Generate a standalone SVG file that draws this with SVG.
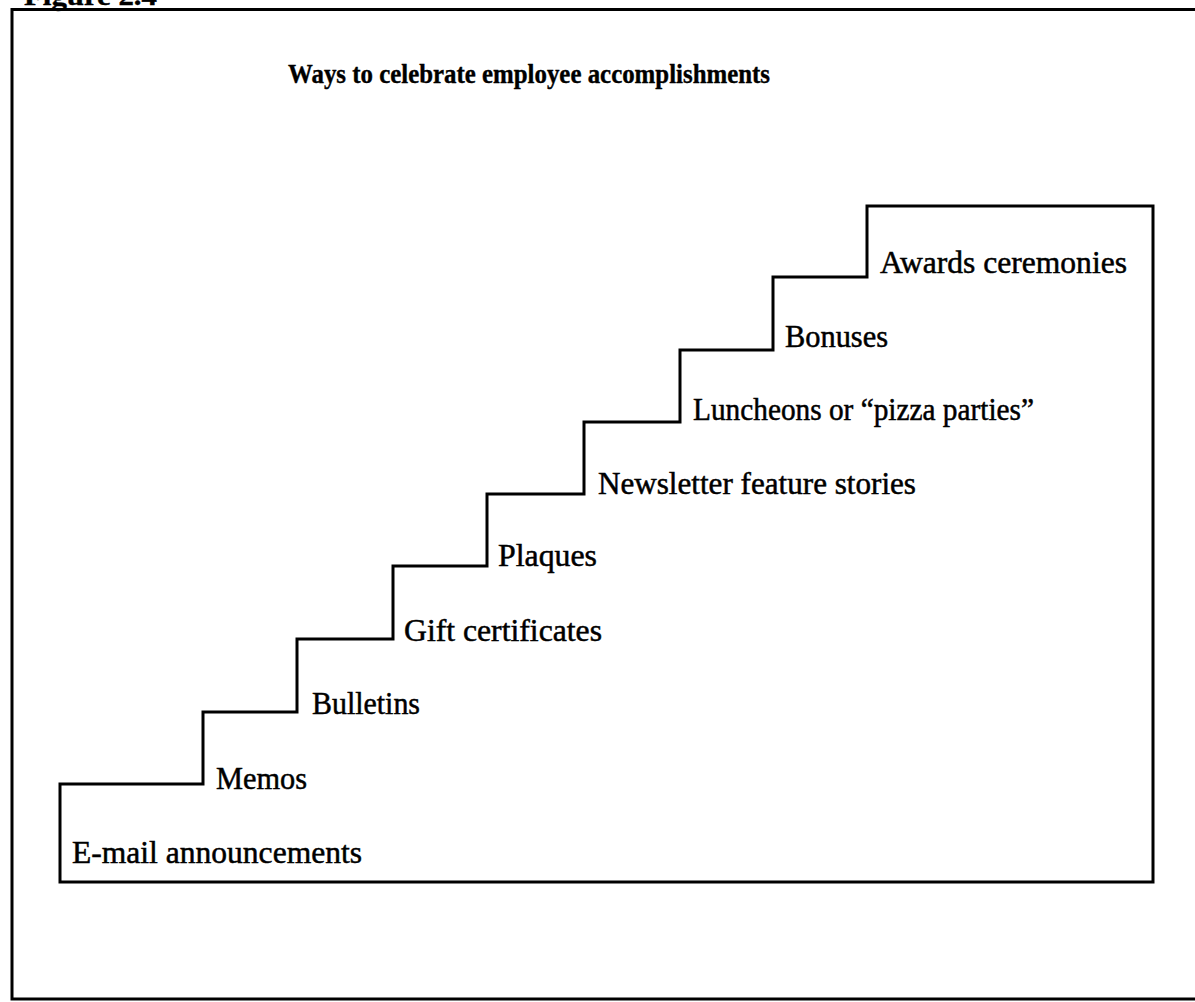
<svg xmlns="http://www.w3.org/2000/svg" width="1195" height="1002" viewBox="0 0 1195 1002">
<style>
.lbl{font-family:"Liberation Serif","Times New Roman",serif;font-size:31px;fill:#000;stroke:#000;stroke-width:0.5}
.ttl{font-family:"Liberation Serif","Times New Roman",serif;font-size:28px;font-weight:bold;fill:#000;stroke:#000;stroke-width:0.4}
.ln{fill:none;stroke:#000;stroke-width:3;stroke-linejoin:miter}
</style>
<rect x="0" y="0" width="1195" height="1002" fill="#fff"/>
<g id="frame">
<path class="ln" d="M1195,9.5 H12 V999 H1195" stroke-width="2.5"/>
<text class="ttl" x="24" y="5" font-size="26" textLength="133" lengthAdjust="spacingAndGlyphs">Figure 2.4</text>
</g>
<g id="title">
<text class="ttl" x="288" y="83" textLength="482" lengthAdjust="spacingAndGlyphs">Ways to celebrate employee accomplishments</text>
</g>
<g id="connectors">
<path id="stairs" class="ln" d="M60,882 V784 H203 V712 H297 V639 H393 V566 H487 V494 H584 V422 H680 V350 H773 V277 H867 V206 H1153 V882 Z"/>
</g>
<g id="step1"><text class="lbl" x="72" y="863" textLength="290" lengthAdjust="spacingAndGlyphs">E-mail announcements</text></g>
<g id="step2"><text class="lbl" x="216" y="789" textLength="91" lengthAdjust="spacingAndGlyphs">Memos</text></g>
<g id="step3"><text class="lbl" x="312" y="714" textLength="108" lengthAdjust="spacingAndGlyphs">Bulletins</text></g>
<g id="step4"><text class="lbl" x="404" y="641" textLength="198" lengthAdjust="spacingAndGlyphs">Gift certificates</text></g>
<g id="step5"><text class="lbl" x="498" y="566" textLength="99" lengthAdjust="spacingAndGlyphs">Plaques</text></g>
<g id="step6"><text class="lbl" x="598" y="494" textLength="318" lengthAdjust="spacingAndGlyphs">Newsletter feature stories</text></g>
<g id="step7"><text class="lbl" x="693" y="420" textLength="341" lengthAdjust="spacingAndGlyphs">Luncheons or “pizza parties”</text></g>
<g id="step8"><text class="lbl" x="785" y="347" textLength="103" lengthAdjust="spacingAndGlyphs">Bonuses</text></g>
<g id="step9"><text class="lbl" x="880" y="273" textLength="247" lengthAdjust="spacingAndGlyphs">Awards ceremonies</text></g>
</svg>
